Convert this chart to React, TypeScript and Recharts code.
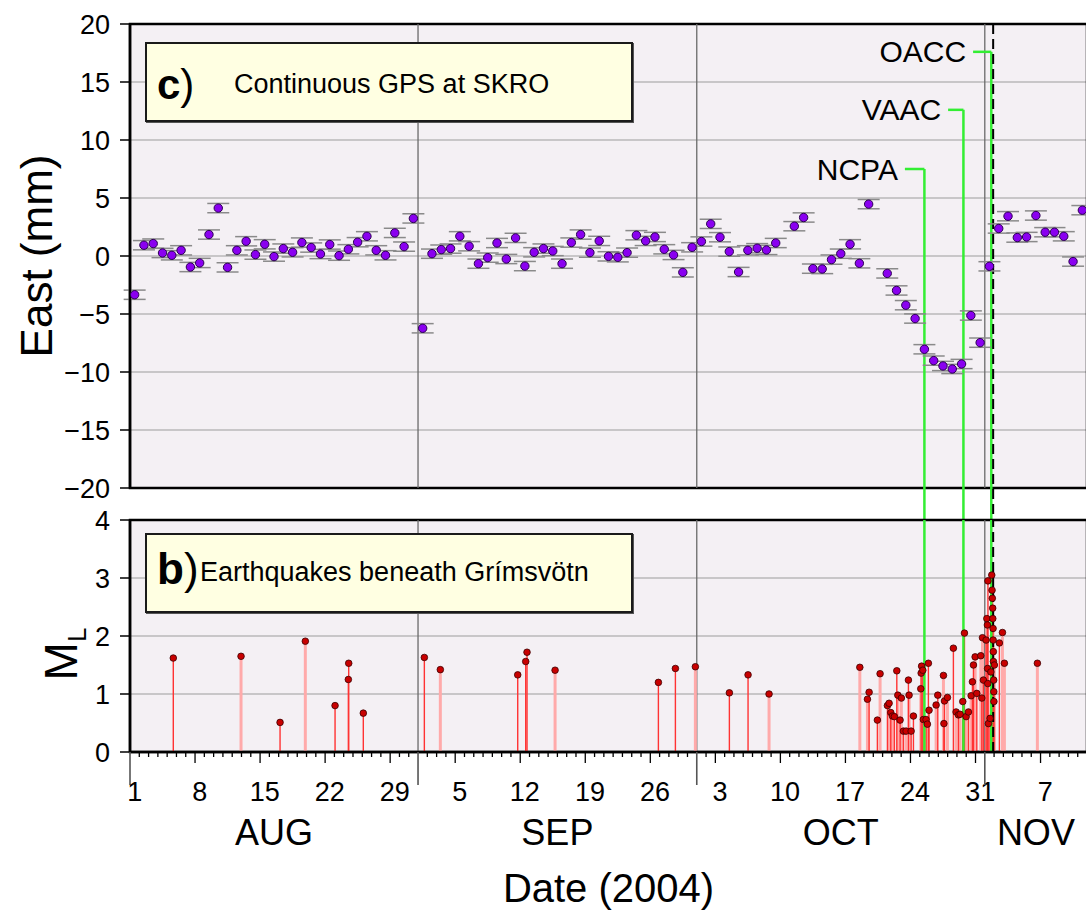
import { ComposedChart, Scatter, XAxis, YAxis, CartesianGrid, ReferenceLine, ReferenceArea, ErrorBar } from 'recharts';

const FONT = "'Liberation Sans', Arial, Helvetica, sans-serif";

// x axis = days since 2004-08-01 00:00
const DAYS = 103;

const eastTicks = [-20, -15, -10, -5, 0, 5, 10, 15, 20];
const magTicks = [0, 1, 2, 3, 4];

const monthStart = [0, 31, 61, 92];
const monthMid = [15.5, 46, 76.5, 97.5];
const monthName = ['AUG', 'SEP', 'OCT', 'NOV'];
const weekDay = [0, 7, 14, 21, 28, 35, 42, 49, 56, 63, 70, 77, 84, 91, 98];
const weekLabel = ['1', '8', '15', '22', '29', '5', '12', '19', '26', '3', '10', '17', '24', '31', '7'];

// daily GPS solutions at SKRO, east component (mm)
const gpsDay = [
    0, 1, 2, 3, 4, 5, 6, 7, 8, 9, 10, 11, 12, 13, 14, 15, 16, 17, 18, 19,
    20, 21, 22, 23, 24, 25, 26, 27, 28, 29, 30, 31, 32, 33, 34, 35, 36, 37, 38, 39,
    40, 41, 42, 43, 44, 45, 46, 47, 48, 49, 50, 51, 52, 53, 54, 55, 56, 57, 58, 59,
    60, 61, 62, 63, 64, 65, 66, 67, 68, 69, 71, 72, 73, 74, 75, 76, 77, 78, 79,
    81, 82, 83, 84, 85, 86, 87, 88, 89, 90, 91, 92, 93, 94, 95, 96, 97, 98, 99, 100, 101, 102
];
const gpsEast = [
    -3.34, 0.93, 1.07, 0.26, 0.06, 0.49, -0.95, -0.6, 1.85, 4.13, -0.98, 0.49, 1.27, 0.12, 1.01, -0.05, 0.64, 0.32, 1.16, 0.73,
    0.17, 0.99, 0.03, 0.58, 1.19, 1.7, 0.49, 0.06, 1.99, 0.81, 3.24, -6.23, 0.2, 0.55, 0.64, 1.7, 0.84, -0.66, -0.14, 1.12,
    -0.26, 1.56, -0.87, 0.32, 0.64, 0.43, -0.66, 1.16, 1.85, 0.29, 1.3, -0.03, -0.11, 0.29, 1.79, 1.3, 1.64, 0.58, 0.09, -1.41,
    0.75, 1.25, 2.77, 1.62, 0.38, -1.38, 0.49, 0.67, 0.52, 1.12, 2.57, 3.32, -1.09, -1.12, -0.31, 0.2, 1.01, -0.63, 4.47,
    -1.5, -2.97, -4.24, -5.39, -8.04, -9.02, -9.48, -9.74, -9.31, -5.13, -7.47, -0.89, 2.37, 3.43, 1.59, 1.64, 3.49, 2.05, 2.05, 1.7, -0.48, 3.95
];
const GPS_SIGMA = 0.4;

// earthquakes beneath Grímsvötn
const eqTime = [
    4.66, 11.95, 16.15, 18.87, 22.07, 23.54, 23.5, 25.11, 31.68, 33.4, 41.73, 42.59, 42.73, 45.75, 56.87, 58.7, 60.85, 64.51, 66.52, 68.78, 78.55,
    79.37, 79.55, 80.44, 80.73, 81.52, 81.7, 81.88, 82.06, 82.27, 82.53, 82.64, 82.88, 83.02, 83.24, 83.53, 83.78, 83.85, 84.07, 84.32, 85.11,
    85.15, 85.2, 85.33, 85.39, 85.68, 85.82, 85.93, 86.0, 86.76, 86.94, 87.55, 87.6, 87.66, 87.98, 88.62, 88.91, 89.16, 89.34, 89.63, 89.81,
    89.99, 90.24, 90.53, 90.67, 90.78, 90.96, 91.14, 91.57, 91.68, 91.75, 91.85, 92.14, 92.22, 92.28, 92.3, 92.32, 92.34, 92.39, 92.57, 92.65,
    92.75, 92.78, 92.81, 92.85, 92.86, 92.89, 92.9, 92.92, 92.93, 92.96, 92.97, 92.98, 93.03, 93.57, 93.9, 94.11, 97.66
];
const eqMag = [
    1.62, 1.65, 0.51, 1.91, 0.8, 1.53, 1.25, 0.67, 1.63, 1.42, 1.33, 1.56, 1.72, 1.41, 1.2, 1.44, 1.47, 1.02, 1.33, 1.0, 1.46,
    0.91, 1.03, 0.55, 1.35, 0.8, 0.84, 0.68, 0.62, 0.61, 1.4, 0.98, 0.55, 0.93, 0.36, 0.36, 1.24, 0.98, 0.36, 0.62, 1.09,
    1.36, 1.48, 1.41, 0.56, 0.56, 0.48, 1.53, 0.72, 0.81, 0.98, 1.32, 0.49, 0.88, 0.94, 1.79, 0.69, 0.64, 0.65, 0.87, 2.05,
    0.61, 0.69, 0.97, 1.21, 1.5, 1.64, 1.01, 1.66, 0.93, 1.97, 1.24, 1.93, 2.3, 2.19, 1.44, 1.18, 2.95, 0.49, 0.58, 1.38,
    3.05, 2.79, 2.65, 2.48, 2.3, 2.13, 1.93, 1.73, 1.56, 1.24, 1.04, 0.87, 1.5, 1.88, 2.06, 1.53, 1.53
];
const eqClass = [
    'A', 'B', 'A', 'B', 'A', 'A', 'A', 'A', 'A', 'B', 'A', 'A', 'A', 'B', 'A', 'A', 'B', 'A', 'A', 'B', 'B',
    'B', 'A', 'A', 'B', 'A', 'B', 'A', 'B', 'A', 'A', 'B', 'A', 'B', 'A', 'B', 'A', 'B', 'A', 'A', 'B',
    'A', 'B', 'A', 'B', 'A', 'B', 'A', 'A', 'B', 'A', 'B', 'A', 'A', 'B', 'A', 'B', 'A', 'B', 'A', 'A',
    'B', 'A', 'B', 'A', 'A', 'B', 'A', 'B', 'A', 'B', 'A', 'A', 'B', 'A', 'B', 'A', 'A', 'B', 'A', 'B',
    'A', 'A', 'B', 'A', 'A', 'B', 'A', 'A', 'B', 'A', 'A', 'B', 'B', 'A', 'B', 'B', 'B'
];

// warnings issued before the eruption
const alertName = ['NCPA', 'VAAC', 'OACC'];
const alertTime = [85.5, 89.7, 92.7];
const alertTagY = [7.5, 12.6, 17.6];
const alertTagFrom = [83.4, 88.05, 90.74];
const ERUPTION = 92.9;
const GAP_END = -22.8;

const GREEN = '#33ee33';
const PLOT_BG = '#f4f0f4';
const GRID = '#9c9c9c';

const gpsData = gpsDay.map((d, i) => ({ x: d + 0.5, y: gpsEast[i], err: GPS_SIGMA }));
const eqData = eqTime.map((t, i) => ({ x: t, y: eqMag[i], stem: [eqMag[i], 0], cls: eqClass[i] }));
const dayTicks = Array.from(new Set([
    ...Array.from({ length: DAYS }, (_, i) => i),
    ...weekDay.map(d => d + 0.5),
    ...monthMid,
])).sort((a, b) => a - b);

const minus = (v: number) => String(v).replace('-', '\u2212');

function GpsDot(props: any) {
    return <circle cx={props.cx} cy={props.cy} r={4.2} fill="#8a00f0" stroke="#2a0050" strokeWidth={1} />;
}

function EqDot(props: any) {
    return <circle cx={props.cx} cy={props.cy} r={3.3} fill="#c80000" stroke="#3a0000" strokeWidth={0.8} />;
}

const NoDot = () => <g />;

function EastLabel({ viewBox }: any) {
    const cx = viewBox.x + 36;
    const cy = viewBox.y + viewBox.height / 2;
    return (
        <text x={cx} y={cy} transform={`rotate(-90, ${cx}, ${cy})`} textAnchor="middle" dominantBaseline="central" fontSize={44} fill="#000">
            East (mm)
        </text>
    );
}

function MagLabel({ viewBox }: any) {
    const cx = viewBox.x + 77;
    const cy = viewBox.y + viewBox.height / 2 + 18;
    return (
        <text x={cx} y={cy} transform={`rotate(-90, ${cx}, ${cy})`} textAnchor="middle" fontSize={46} fill="#000">
            M<tspan fontSize={26} dy={9}>L</tspan>
        </text>
    );
}

// one axis carries the day marks, the weekly day numbers and the month names
function DayTick({ x, y, payload }: any) {
    const v = payload.value;
    const parts = [];
    if (Number.isInteger(v)) {
        const isMonth = monthStart.includes(v);
        const len = isMonth ? 33 : v % 7 === 0 ? 11 : 5;
        parts.push(<line key="m" x1={x} x2={x} y1={y} y2={y + len} stroke={isMonth ? '#555' : '#000'} strokeWidth={isMonth ? 1.6 : 1.3} />);
    }
    const w = weekDay.indexOf(v - 0.5);
    if (w >= 0) {
        parts.push(<text key="d" x={x} y={y + 49} textAnchor="middle" fontSize={27} fill="#000">{weekLabel[w]}</text>);
    }
    const m = monthMid.indexOf(v);
    if (m >= 0) {
        parts.push(<text key="n" x={x} y={y + 93} textAnchor="middle" fontSize={36} fill="#000">{monthName[m]}</text>);
    }
    return <g>{parts}</g>;
}

const yTickProps = {
    width: 130,
    tickSize: 10,
    tickMargin: 10,
    axisLine: { stroke: '#000', strokeWidth: 2.5 },
    tickLine: { stroke: '#000', strokeWidth: 1.5 },
    tick: { fill: '#000', fontSize: 27 },
    interval: 0 as const,
};

function Panel({ left, top, width, children }: any) {
    return (
        <div style={{ position: 'absolute', left, top, width, boxSizing: 'border-box', height: 80, background: '#ffffe2', border: '2px solid #1a1a1a', boxShadow: '1px 1px 0 #555' }}>
            {children}
        </div>
    );
}

export default function App() {
    return (
        <div style={{ position: 'fixed', left: 0, top: 0, width: 1086, height: 910, overflow: 'hidden', background: '#fff', fontFamily: FONT }}>
            <div style={{ position: 'absolute', left: 0, top: 0 }}>
                <ComposedChart width={1087} height={520} margin={{ top: 24, right: 0, bottom: 32, left: 0 }} style={{ overflow: 'visible' }}>
                    <CartesianGrid vertical={false} stroke={GRID} strokeWidth={1.2} fill={PLOT_BG} fillOpacity={1} />
                    <XAxis type="number" dataKey="x" domain={[0, DAYS]} hide allowDataOverflow />
                    <YAxis type="number" dataKey="y" domain={[-20, 20]} ticks={eastTicks} tickFormatter={minus} label={<EastLabel />} allowDataOverflow {...yTickProps} />
                    {monthStart.slice(1).map(d => (
                        <ReferenceLine key={d} x={d} stroke="#6a6a6a" strokeWidth={1.3} />
                    ))}
                    {alertName.map((name, i) => (
                        <ReferenceLine
                            key={name + 'tag'}
                            segment={[{ x: alertTagFrom[i], y: alertTagY[i] }, { x: alertTime[i], y: alertTagY[i] }]}
                            stroke={GREEN}
                            strokeWidth={2.5}
                            ifOverflow="visible"
                            label={{ value: name, position: 'left', offset: 7, fontSize: 30, fill: '#000' }}
                        />
                    ))}
                    {alertName.map((name, i) => (
                        <ReferenceLine
                            key={name + 'drop'}
                            segment={[{ x: alertTime[i], y: alertTagY[i] }, { x: alertTime[i], y: GAP_END }]}
                            stroke={GREEN}
                            strokeWidth={2.5}
                            ifOverflow="visible"
                        />
                    ))}
                    <ReferenceLine
                        segment={[{ x: ERUPTION, y: 20 }, { x: ERUPTION, y: GAP_END }]}
                        stroke="#000"
                        strokeWidth={2}
                        strokeDasharray="10 5"
                        ifOverflow="visible"
                    />
                    <Scatter data={gpsData} isAnimationActive={false} shape={GpsDot}>
                        <ErrorBar dataKey="err" direction="y" width={11} stroke="#8a8a8a" strokeWidth={1.5} />
                    </Scatter>
                    <ReferenceArea x1={0} x2={DAYS} y1={-20} y2={20} fill="none" fillOpacity={0} stroke="#000" strokeWidth={2.5} />
                </ComposedChart>
            </div>

            <div style={{ position: 'absolute', left: 0, top: 500 }}>
                <ComposedChart width={1087} height={410} margin={{ top: 20, right: 0, bottom: 0, left: 0 }}>
                    <CartesianGrid vertical={false} stroke={GRID} strokeWidth={1.2} fill={PLOT_BG} fillOpacity={1} />
                    <XAxis
                        type="number"
                        dataKey="x"
                        domain={[0, DAYS]}
                        ticks={dayTicks}
                        interval={0}
                        height={50}
                        tickSize={0}
                        tickMargin={0}
                        tickLine={false}
                        tick={<DayTick />}
                        axisLine={{ stroke: '#000', strokeWidth: 2.5 }}
                        allowDataOverflow
                    />
                    <XAxis
                        xAxisId="title"
                        type="number"
                        domain={[0, DAYS]}
                        height={108}
                        tick={false}
                        tickLine={false}
                        axisLine={false}
                        label={{ value: 'Date (2004)', position: 'insideBottom', offset: 8, fontSize: 40, fill: '#000' }}
                        allowDataOverflow
                    />
                    <YAxis type="number" dataKey="y" domain={[0, 4]} ticks={magTicks} label={<MagLabel />} allowDataOverflow {...yTickProps} />
                    {monthStart.slice(1).map(d => (
                        <ReferenceLine key={d} x={d} stroke="#6a6a6a" strokeWidth={1.3} />
                    ))}
                    <Scatter data={eqData.filter(e => e.cls === 'B')} isAnimationActive={false} shape={NoDot}>
                        <ErrorBar dataKey="stem" direction="y" width={0} stroke="#ffaaaa" strokeWidth={3} />
                    </Scatter>
                    <Scatter data={eqData.filter(e => e.cls === 'A')} isAnimationActive={false} shape={NoDot}>
                        <ErrorBar dataKey="stem" direction="y" width={0} stroke="#ff3333" strokeWidth={1.4} />
                    </Scatter>
                    {alertName.map((name, i) => (
                        <ReferenceLine key={name} x={alertTime[i]} stroke={GREEN} strokeWidth={2.5} />
                    ))}
                    <ReferenceLine x={ERUPTION} stroke="#000" strokeWidth={2} strokeDasharray="10 5" />
                    <Scatter data={eqData} isAnimationActive={false} shape={EqDot} />
                    <ReferenceArea x1={0} x2={DAYS} y1={0} y2={4} fill="none" fillOpacity={0} stroke="#000" strokeWidth={2.5} />
                </ComposedChart>
            </div>

            <Panel left={145} top={42} width={488}>
                <span style={{ position: 'absolute', left: 10, top: 20, fontSize: 42, lineHeight: '42px' }}><b>c</b>)</span>
                <span style={{ position: 'absolute', left: 87, top: 27, fontSize: 27, lineHeight: '27px' }}>Continuous GPS at SKRO</span>
            </Panel>
            <Panel left={145} top={533} width={488}>
                <span style={{ position: 'absolute', left: 10, top: 12, fontSize: 44, lineHeight: '44px' }}><b>b</b>)</span>
                <span style={{ position: 'absolute', left: 53, top: 24, fontSize: 27, lineHeight: '27px' }}>Earthquakes beneath Grímsvötn</span>
            </Panel>
        </div>
    );
}
